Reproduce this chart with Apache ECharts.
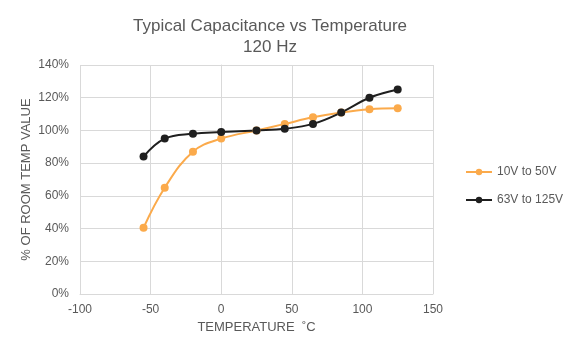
<!DOCTYPE html>
<html>
<head>
<meta charset="utf-8">
<script src="https://cdn.jsdelivr.net/npm/echarts@6/dist/echarts.min.js"></script>
<style>
html,body{margin:0;padding:0;background:#fff;}
#chart{width:568px;height:350px;}
</style>
</head>
<body>
<div id="chart"></div>
<script>
// temperatures (°C) and capacitance as % of room temp value
var temps = [-55, -40, -20, 0, 25, 45, 65, 85, 105, 125];
var lowV = [40.5, 65, 87, 95, 100, 104, 108, 111, 113, 113.5];
var highV = [84, 95, 98, 99, 100, 101, 104, 111, 120, 125];
var seriesNames = ['10V to 50V', '63V to 125V'];

function pairs(xs, ys){
    var out = [];
    for (var i = 0; i < xs.length; i++) out.push([xs[i], ys[i]]);
    return out;
}

var textColor = '#595959';
var gridColor = '#d9d9d9';

var myChart = echarts.init(document.getElementById('chart'));
var option = {
    animation: false,
    title: {
        text: 'Typical Capacitance vs Temperature\n120 Hz',
        left: 265, top: 11, textAlign: 'center',
        textStyle: {fontFamily: 'Liberation Sans', fontSize: 17, fontWeight: 'normal', color: textColor, lineHeight: 21}
    },
    legend: {
        orient: 'vertical', left: 460, top: 161, itemGap: 16,
        itemWidth: 26, itemHeight: 8,
        textStyle: {fontFamily: 'Liberation Sans', fontSize: 12, color: textColor},
        data: seriesNames
    },
    grid: {left: 80, right: 135, top: 65, bottom: 56},
    xAxis: {
        type: 'value', min: -100, max: 150, interval: 50,
        name: 'TEMPERATURE  \u02DAC', nameLocation: 'middle', nameGap: 27,
        nameTextStyle: {fontFamily: 'Liberation Sans', fontSize: 13, color: textColor},
        axisLine: {lineStyle: {color: gridColor}},
        axisTick: {show: false},
        axisLabel: {fontFamily: 'Liberation Sans', fontSize: 12, color: textColor, margin: 10},
        splitLine: {show: true, lineStyle: {color: gridColor}}
    },
    yAxis: {
        type: 'value', min: 0, max: 140, interval: 20,
        name: '% OF ROOM TEMP VALUE', nameLocation: 'middle', nameGap: 47,
        nameMoveOverlap: false,
        nameTextStyle: {fontFamily: 'Liberation Sans', fontSize: 13, color: textColor},
        axisLine: {show: true, lineStyle: {color: gridColor}},
        axisTick: {show: false},
        axisLabel: {fontFamily: 'Liberation Sans', fontSize: 12, color: textColor, formatter: '{value}%', margin: 11},
        splitLine: {show: true, lineStyle: {color: gridColor}}
    },
    series: [
        {
            name: seriesNames[0], type: 'line', smooth: 0.4,
            symbol: 'circle', symbolSize: 8,
            lineStyle: {width: 2, color: '#fbaa4b'},
            itemStyle: {color: '#fbaa4b'},
            data: pairs(temps, lowV)
        },
        {
            name: seriesNames[1], type: 'line', smooth: 0.4,
            symbol: 'circle', symbolSize: 8,
            lineStyle: {width: 2, color: '#1f1f1f'},
            itemStyle: {color: '#1f1f1f'},
            data: pairs(temps, highV)
        }
    ]
};
myChart.setOption(option);
window.addEventListener("resize", function () {
    myChart.resize();
});
</script>
</body>
</html>
